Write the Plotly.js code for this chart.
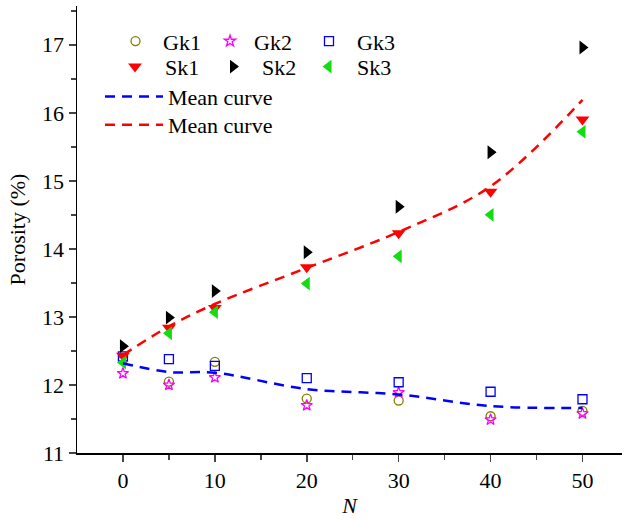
<!DOCTYPE html>
<html><head><meta charset="utf-8">
<script src="https://cdn.plot.ly/plotly-3.0.1.min.js"></script>
<style>html,body{margin:0;padding:0;background:#fff}</style>
</head><body><div id="chart" style="width:624px;height:520px"></div>
<script>
const N = [0, 5, 10, 20, 30, 40, 50];
const gk1 = [12.37, 12.05, 12.34, 11.80, 11.77, 11.54, 11.62];
const gk2 = [12.17, 12.00, 12.11, 11.70, 11.89, 11.49, 11.58];
const gk3 = [12.42, 12.38, 12.28, 12.10, 12.04, 11.90, 11.79];
const sk1 = [12.43, 12.84, 13.13, 13.73, 14.23, 14.84, 15.90];
const sk2 = [12.57, 12.99, 13.38, 13.95, 14.62, 15.42, 16.96];
const sk3 = [12.33, 12.76, 13.07, 13.49, 13.89, 14.50, 15.72];
const meanG = [12.32, 12.19, 12.18, 11.94, 11.86, 11.69, 11.66];
const meanS = [12.44, 12.86, 13.19, 13.72, 14.25, 14.92, 16.19];
const xTicks = [0, 10, 20, 30, 40, 50];
const yTicks = [11, 12, 13, 14, 15, 16, 17];

const FONT = 'Liberation Serif';
function pts(name, y, symbol, color, size, legend, lw) {
  return {x: N, y: y, name: name, type: 'scatter', mode: 'markers', legend: legend,
    marker: {symbol: symbol, color: color, size: size, line: {color: color, width: lw}}};
}
const traces = [
  pts('Gk1', gk1, 'circle-open', '#808000', 9, 'legend', 1.3),
  pts('Gk2', gk2, 'star-open', '#ff00ff', 8.5, 'legend2', 1.3),
  pts('Gk3', gk3, 'square-open', '#0000ff', 9, 'legend3', 1.3),
  pts('Sk1', sk1, 'triangle-down', '#ff0000', 12, 'legend4', 0),
  pts('Sk2', sk2, 'triangle-right', '#000000', 12, 'legend5', 0),
  pts('Sk3', sk3, 'triangle-left', '#11dd11', 12, 'legend6', 0),
  {x: N, y: meanG, name: 'Mean curve', type: 'scatter', mode: 'lines', legend: 'legend7',
    line: {color: '#0000ff', width: 2.5, dash: '10px,7px', shape: 'spline'}},
  {x: N, y: meanS, name: 'Mean curve', type: 'scatter', mode: 'lines', legend: 'legend8',
    line: {color: '#ff0000', width: 2.5, dash: '10px,7px', shape: 'spline'}}
];
function leg(x, y, iw) {
  return {x: x, y: y, xanchor: 'left', yanchor: 'top', bgcolor: 'rgba(0,0,0,0)',
    font: {family: FONT, size: 22, color: '#000'}, tracegroupgap: 0, itemwidth: iw};
}
const layout = {
  width: 624, height: 520,
  margin: {l: 77, r: 2, t: 6, b: 67},
  paper_bgcolor: '#fff', plot_bgcolor: '#fff',
  font: {family: FONT, size: 22, color: '#000'},
  showlegend: true,
  legend: leg(0.0569, 0.968, 45),
  legend2: leg(0.2367, 0.968, 38),
  legend3: leg(0.4110, 0.968, 46),
  legend4: leg(0.0514, 0.911, 50),
  legend5: leg(0.2330, 0.911, 48),
  legend6: leg(0.4092, 0.911, 47),
  legend7: leg(0.0422, 0.844, 58),
  legend8: leg(0.0422, 0.781, 58),
  xaxis: {range: [-5, 54.3], tickvals: xTicks, ticks: 'outside', ticklen: 7, tickwidth: 1.5,
    showline: true, linecolor: '#000', linewidth: 1.5, showgrid: false, zeroline: false,
    minor: {tickvals: [5, 15, 25, 35, 45], ticks: 'outside', ticklen: 5, tickwidth: 1.5, showgrid: false},
    tickfont: {family: FONT, size: 22},
    title: {text: '<i>N</i>', font: {family: FONT, size: 22}, standoff: 5}},
  yaxis: {range: [11, 17.57], tickvals: yTicks, ticks: 'outside', ticklen: 7, tickwidth: 1.5,
    showline: true, linecolor: '#000', linewidth: 1.5, showgrid: false, zeroline: false,
    minor: {tickvals: [11.5, 12.5, 13.5, 14.5, 15.5, 16.5, 17.5], ticks: 'outside', ticklen: 5, tickwidth: 1.5, showgrid: false},
    tickfont: {family: FONT, size: 22},
    title: {text: 'Porosity (%)', font: {family: FONT, size: 22}, standoff: 10}}
};
Plotly.newPlot('chart', traces, layout, {displayModeBar: false, staticPlot: true});
</script></body></html>
